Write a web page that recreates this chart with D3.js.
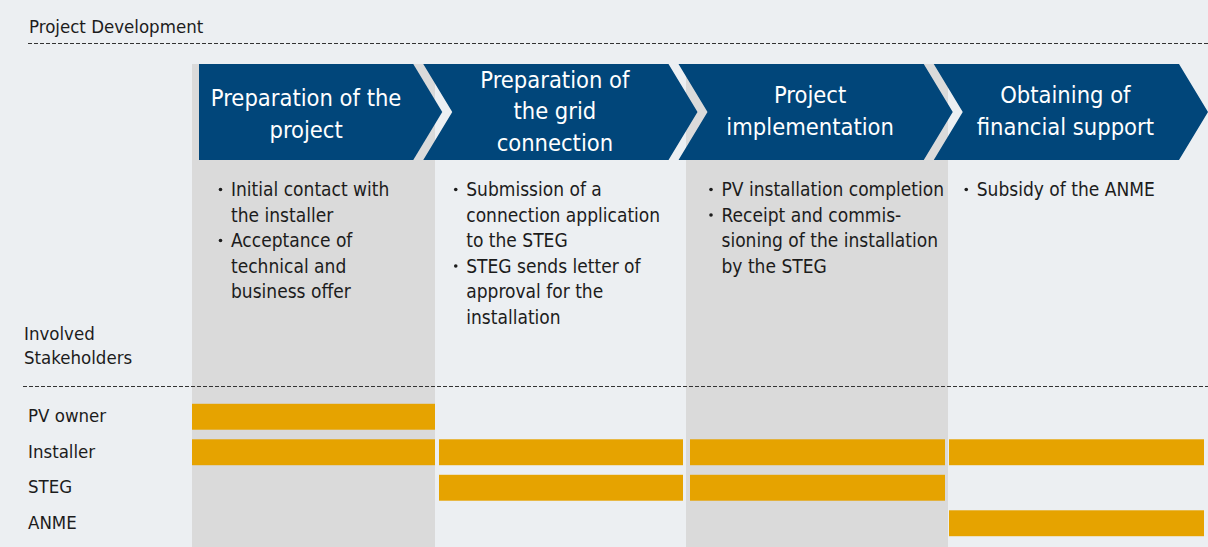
<!DOCTYPE html>
<html>
<head>
<meta charset="utf-8">
<script src="https://cdn.jsdelivr.net/npm/d3@7"></script>
<style>
  html, body { margin: 0; padding: 0; background: #eceff2; overflow: hidden; }
  svg { display: block; }
  text { font-family: 'DejaVu Sans Condensed', 'DejaVu Sans', sans-serif; font-stretch: condensed; }
</style>
</head>
<body>
<div id="graph-container"></div>
<script>

/////////////////////////////////////////////////////////////////////////////
                      ///////    Data    ///////
/////////////////////////////////////////////////////////////////////////////

var phases = ['Preparation of the project', 'Preparation of the grid connection', 'Project implementation', 'Obtaining of financial support'];

var phase_headers = [
    ['Preparation of the', 'project'],
    ['Preparation of', 'the grid', 'connection'],
    ['Project', 'implementation'],
    ['Obtaining of', 'financial support']
];

// one list per phase, one list of wrapped lines per bullet
var phase_steps = [
    [['Initial contact with', 'the installer'], ['Acceptance of', 'technical and', 'business offer']],
    [['Submission of a', 'connection application', 'to the STEG'], ['STEG sends letter of', 'approval for the', 'installation']],
    [['PV installation completion'], ['Receipt and commis-', 'sioning of the installation', 'by the STEG']],
    [['Subsidy of the ANME']]
];

var stakeholders = ['PV owner', 'Installer', 'STEG', 'ANME'];

// rows = stakeholders, columns = phases
var involvement = [
    [1, 0, 0, 0],
    [1, 1, 1, 1],
    [0, 1, 1, 0],
    [0, 0, 0, 1]
];

/////////////////////////////////////////////////////////////////////////////
                      ///////    Layout    ///////
/////////////////////////////////////////////////////////////////////////////

var w = 1208, h = 547;

var col_edges = [192, 435, 686, 948, 1208];
var chevron_top = 64, chevron_bottom = 160;
var tip_depth = 29;

var background = '#eceff2';
var column_gray = '#dadada';
var blue = '#01467a';
var orange = '#e6a300';
var ink = '#1c1c1c';

var svg = d3.select('#graph-container').append('svg')
    .attr('width', w).attr('height', h);

svg.append('rect').attr('width', w).attr('height', h).attr('fill', background);

// column edges scale (phase index -> x)
var x = d3.scaleLinear().domain(d3.range(col_edges.length)).range(col_edges);

// chevron slots, tips land on the slot ends
var slot = d3.scaleBand().domain(phases).range([187, w]);

var y_row = d3.scaleBand().domain(stakeholders).range([399, 541]).paddingInner(0.27).paddingOuter(0.135);

/////////////////////////////////////////////////////////////////////////////
                      ///////    Columns    ///////
/////////////////////////////////////////////////////////////////////////////

svg.append('g').selectAll('rect')
    .data(phases.map((p, i) => i).filter(i => i % 2 === 0))
    .enter().append('rect')
    .attr('x', i => x(i))
    .attr('y', chevron_top)
    .attr('width', i => x(i + 1) - x(i))
    .attr('height', h - chevron_top)
    .attr('fill', column_gray);

/////////////////////////////////////////////////////////////////////////////
                      ///////    Chevrons    ///////
/////////////////////////////////////////////////////////////////////////////

var y_mid = (chevron_top + chevron_bottom) / 2;

function chevron_points(i) {
    var s = slot(phases[i]);
    var e = s + slot.step();
    var left = i === 0 ? col_edges[0] + 7 : s - 19;
    var notch = i === 0 ? 0 : tip_depth;
    var right = e - tip_depth;
    return [[left, chevron_top], [right, chevron_top], [e, y_mid], [right, chevron_bottom],
            [left, chevron_bottom], [left + notch, y_mid]];
}

function header_center(i) {
    var pts = chevron_points(i);
    return (pts[0][0] + pts[1][0]) / 2 + (i === 0 ? 0 : 9);
}

var chevrons = svg.append('g').selectAll('g')
    .data(phases)
    .enter().append('g');

chevrons.append('path')
    .attr('d', (d, i) => d3.line()(chevron_points(i)) + 'Z')
    .attr('fill', blue);

var header_lh = 31.5;
chevrons.each(function (d, i) {
    var lines = phase_headers[i];
    var shift = i === 0 ? 10 : 7;
    d3.select(this).selectAll('text')
        .data(lines)
        .enter().append('text')
        .attr('x', header_center(i))
        .attr('y', (l, k) => y_mid + shift + (k - (lines.length - 1) / 2) * header_lh)
        .attr('text-anchor', 'middle')
        .attr('fill', '#ffffff')
        .style('font-size', '23.5px')
        .text(l => l);
});

/////////////////////////////////////////////////////////////////////////////
                      ///////    Steps    ///////
/////////////////////////////////////////////////////////////////////////////

var step_top = 196, step_lh = 25.5;

phase_steps.forEach(function (items, i) {
    var text_x = i === 0 ? x(0) + 39 : slot(phases[i]) + 24;
    var lines = [];
    items.forEach(item => item.forEach((l, k) => lines.push({text: l, bullet: k === 0})));

    var g = svg.append('g');
    g.selectAll('text')
        .data(lines)
        .enter().append('text')
        .attr('x', text_x)
        .attr('y', (d, k) => step_top + k * step_lh)
        .attr('fill', ink)
        .style('font-size', '19px')
        .text(d => d.text);

    g.selectAll('circle')
        .data(lines.map((d, k) => ({bullet: d.bullet, k: k})).filter(d => d.bullet))
        .enter().append('circle')
        .attr('cx', text_x - 10.5)
        .attr('cy', d => step_top + d.k * step_lh - 6.5)
        .attr('r', 1.8)
        .attr('fill', ink);
});

/////////////////////////////////////////////////////////////////////////////
                      ///////    Labels & rules    ///////
/////////////////////////////////////////////////////////////////////////////

svg.append('text')
    .attr('x', 29).attr('y', 33)
    .attr('fill', ink)
    .style('font-size', '18.5px')
    .text('Project Development');

svg.append('line')
    .attr('x1', 28).attr('x2', w).attr('y1', 43.5).attr('y2', 43.5)
    .attr('stroke', '#333').attr('stroke-width', 1.2).attr('stroke-dasharray', '4,2');

svg.append('g').selectAll('text')
    .data(['Involved', 'Stakeholders'])
    .enter().append('text')
    .attr('x', 24)
    .attr('y', (d, k) => 340 + k * 24)
    .attr('fill', ink)
    .style('font-size', '18.5px')
    .text(d => d);

svg.append('line')
    .attr('x1', 23).attr('x2', w).attr('y1', 386.5).attr('y2', 386.5)
    .attr('stroke', '#333').attr('stroke-width', 1.2).attr('stroke-dasharray', '4,2');

/////////////////////////////////////////////////////////////////////////////
                      ///////    Stakeholder bars    ///////
/////////////////////////////////////////////////////////////////////////////

svg.append('g').selectAll('text')
    .data(stakeholders)
    .enter().append('text')
    .attr('x', 28)
    .attr('y', d => y_row(d) + y_row.bandwidth() / 2 + 5.5)
    .attr('fill', ink)
    .style('font-size', '18.5px')
    .text(d => d);

var cells = [];
involvement.forEach((row, r) => row.forEach((v, c) => { if (v) cells.push({stakeholder: stakeholders[r], phase: c}); }));

var bar_left = c => x(c) + (c === 0 ? 0 : c < phases.length - 1 ? 4 : 1);
var bar_right = c => x(c + 1) - (c === 0 ? 0 : c < phases.length - 1 ? 3 : 4);

svg.append('g').selectAll('rect')
    .data(cells)
    .enter().append('rect')
    .attr('x', d => bar_left(d.phase))
    .attr('y', d => y_row(d.stakeholder))
    .attr('width', d => bar_right(d.phase) - bar_left(d.phase))
    .attr('height', y_row.bandwidth())
    .attr('fill', orange);

</script>
</body>
</html>
